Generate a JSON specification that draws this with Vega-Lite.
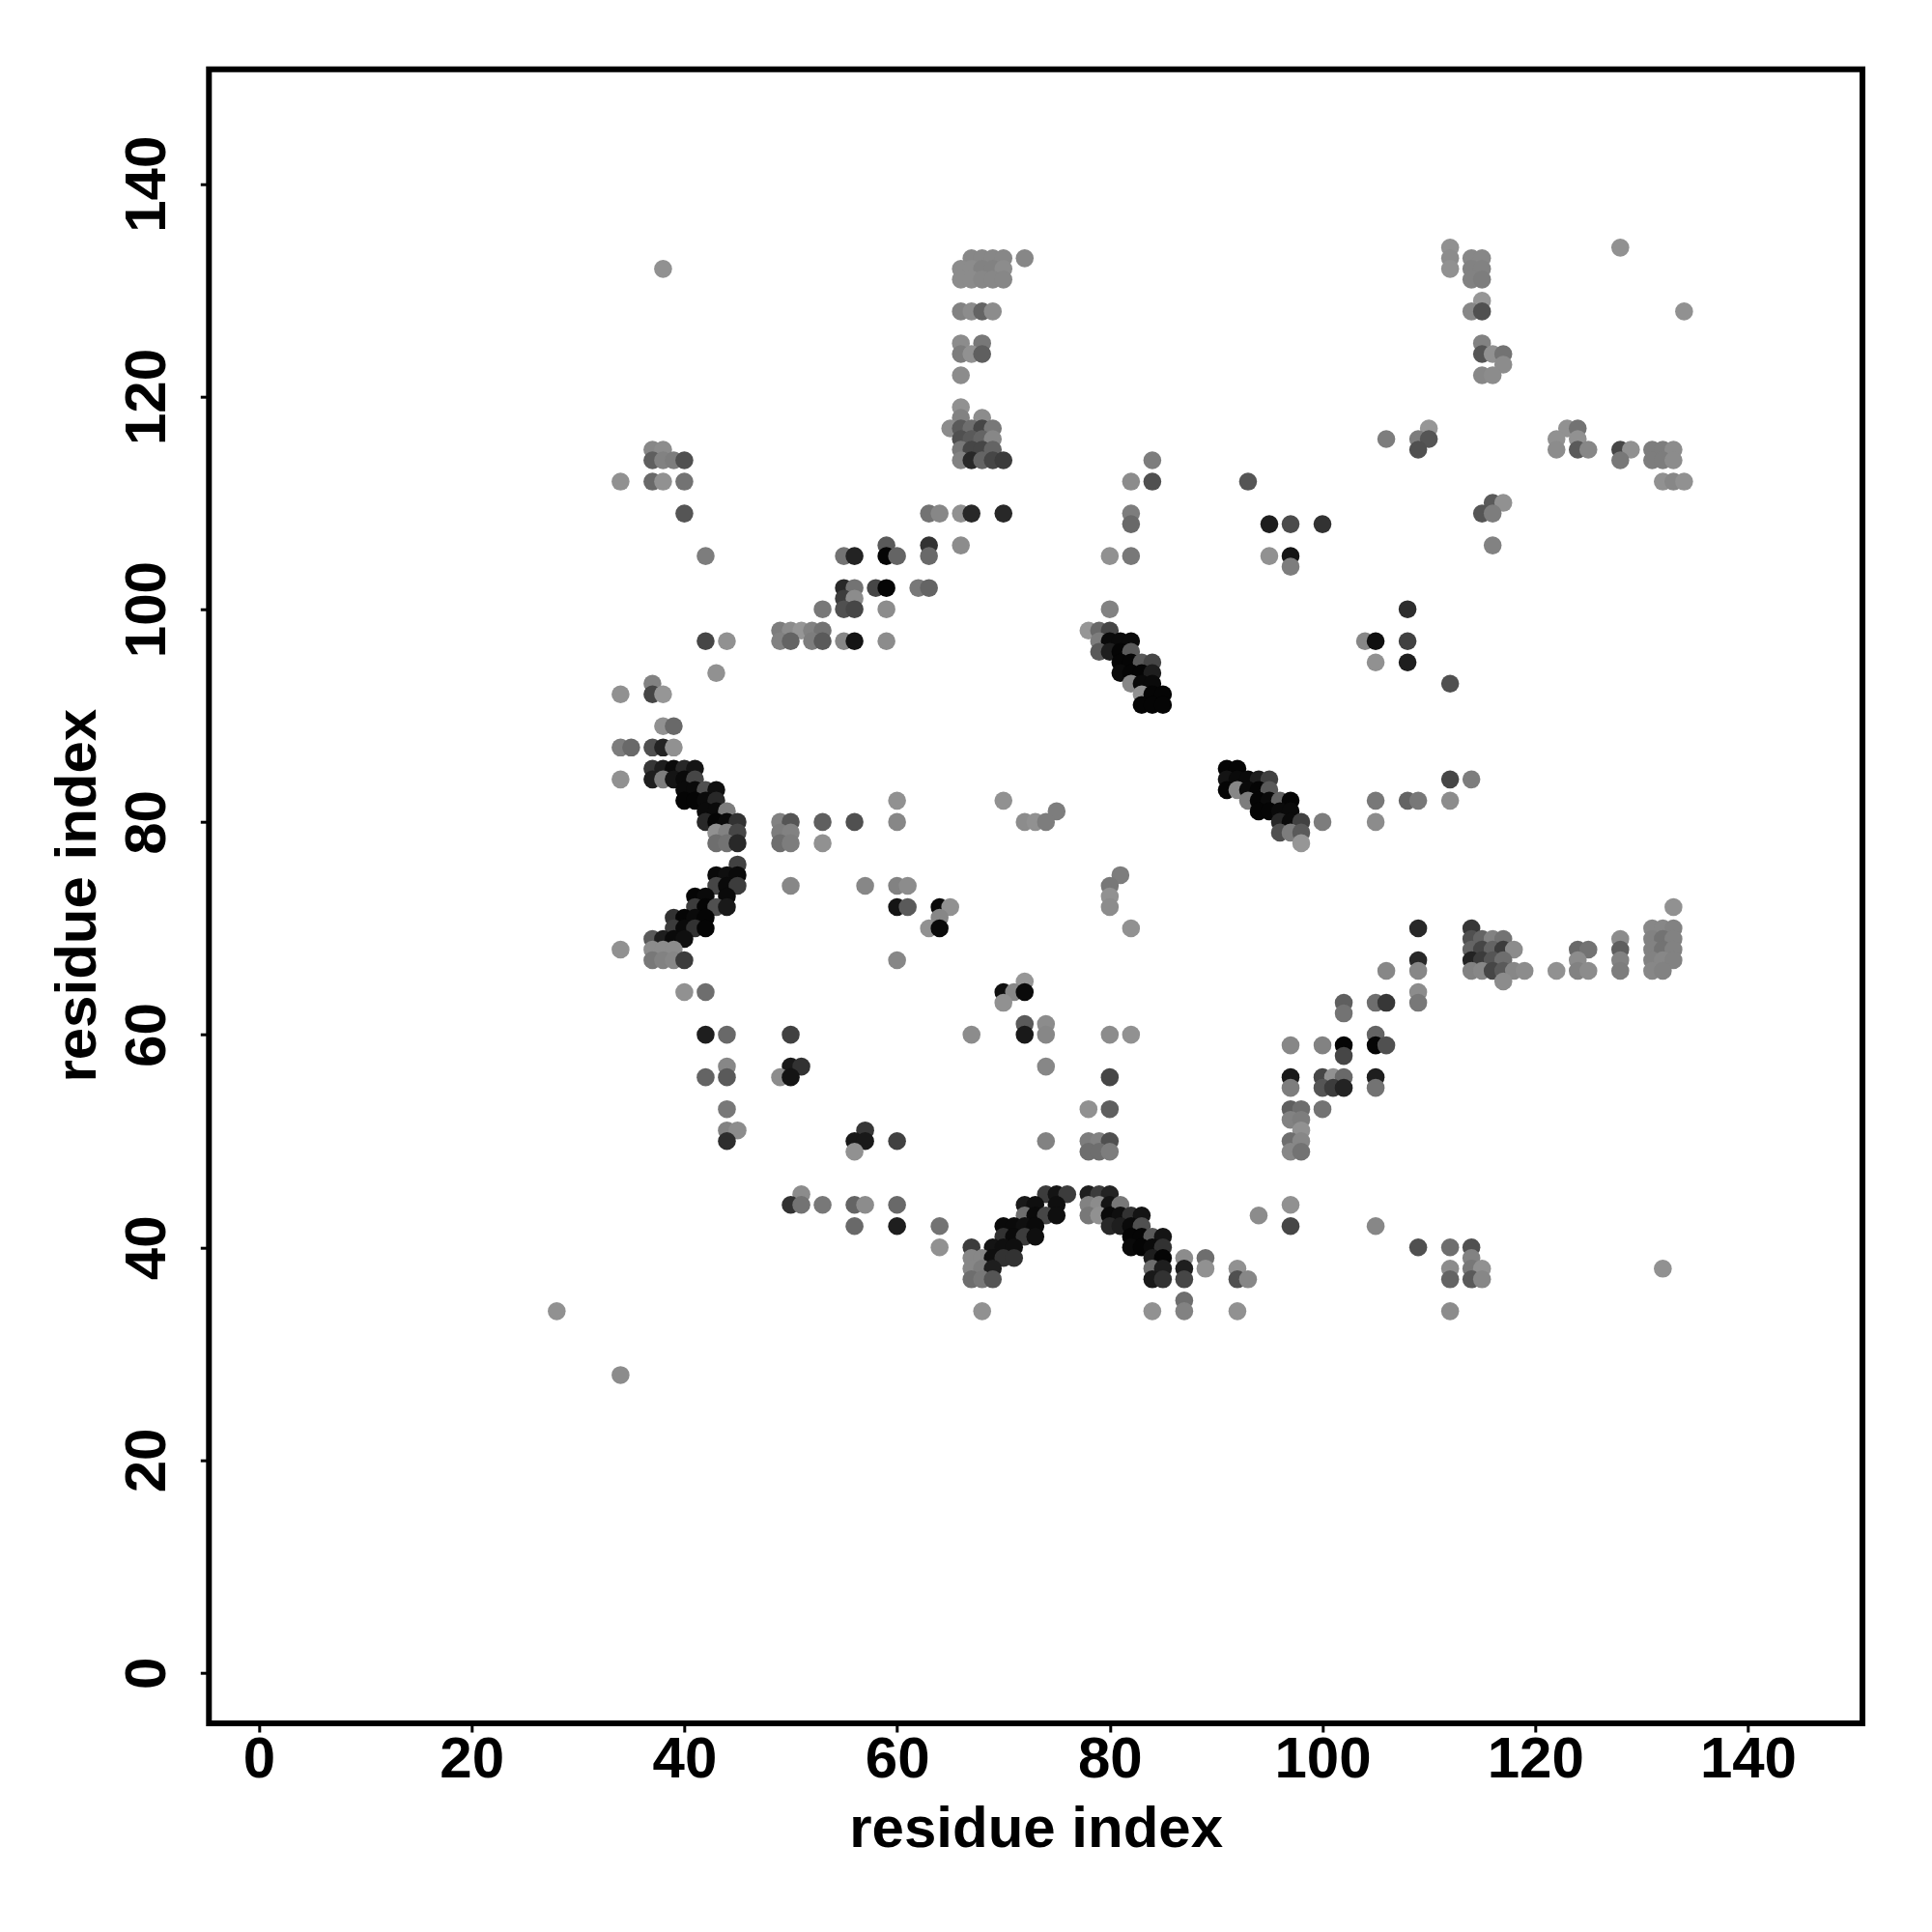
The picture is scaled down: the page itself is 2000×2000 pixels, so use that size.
{"$schema":"https://vega.github.io/schema/vega-lite/v6.json","width":1711.7,"height":1712.3,"autosize":{"type":"none"},"padding":{"left":216.3,"top":71.7,"right":72,"bottom":216},"background":"white","view":{"stroke":"#000000","strokeWidth":6,"fill":"white"},"data":{"values":[
{"x":112,"y":134,"g":145},{"x":128,"y":134,"g":145},
{"x":67,"y":133,"g":135},{"x":68,"y":133,"g":135},{"x":69,"y":133,"g":135},{"x":70,"y":133,"g":135},{"x":72,"y":133,"g":135},{"x":112,"y":133,"g":140},{"x":114,"y":133,"g":135},{"x":115,"y":133,"g":135},
{"x":38,"y":132,"g":145},{"x":66,"y":132,"g":140},{"x":67,"y":132,"g":140},{"x":68,"y":132,"g":130},{"x":69,"y":132,"g":130},{"x":70,"y":132,"g":140},{"x":112,"y":132,"g":145},{"x":114,"y":132,"g":130},{"x":115,"y":132,"g":130},
{"x":66,"y":131,"g":140},{"x":67,"y":131,"g":140},{"x":68,"y":131,"g":135},{"x":69,"y":131,"g":135},{"x":70,"y":131,"g":135},{"x":114,"y":131,"g":130},{"x":115,"y":131,"g":125},
{"x":115,"y":129,"g":150},
{"x":66,"y":128,"g":130},{"x":67,"y":128,"g":140},{"x":68,"y":128,"g":100},{"x":69,"y":128,"g":140},{"x":114,"y":128,"g":135},{"x":115,"y":128,"g":80},{"x":134,"y":128,"g":145},
{"x":66,"y":125,"g":140},{"x":68,"y":125,"g":120},{"x":115,"y":125,"g":130},
{"x":66,"y":124,"g":125},{"x":67,"y":124,"g":145},{"x":68,"y":124,"g":95},{"x":115,"y":124,"g":85},{"x":116,"y":124,"g":145},{"x":117,"y":124,"g":115},
{"x":117,"y":123,"g":140},
{"x":66,"y":122,"g":140},{"x":115,"y":122,"g":135},{"x":116,"y":122,"g":140},
{"x":66,"y":119,"g":145},
{"x":66,"y":118,"g":130},{"x":68,"y":118,"g":140},
{"x":65,"y":117,"g":140},{"x":66,"y":117,"g":90},{"x":67,"y":117,"g":110},{"x":68,"y":117,"g":70},{"x":69,"y":117,"g":120},{"x":110,"y":117,"g":150},{"x":123,"y":117,"g":145},{"x":124,"y":117,"g":115},
{"x":66,"y":116,"g":80},{"x":67,"y":116,"g":90},{"x":68,"y":116,"g":100},{"x":69,"y":116,"g":135},{"x":106,"y":116,"g":125},{"x":109,"y":116,"g":125},{"x":110,"y":116,"g":85},{"x":122,"y":116,"g":145},{"x":124,"y":116,"g":145},
{"x":37,"y":115,"g":135},{"x":38,"y":115,"g":140},{"x":66,"y":115,"g":120},{"x":67,"y":115,"g":70},{"x":68,"y":115,"g":70},{"x":69,"y":115,"g":100},{"x":109,"y":115,"g":80},{"x":122,"y":115,"g":140},{"x":124,"y":115,"g":90},{"x":125,"y":115,"g":135},{"x":128,"y":115,"g":70},{"x":129,"y":115,"g":145},{"x":131,"y":115,"g":125},{"x":132,"y":115,"g":125},{"x":133,"y":115,"g":140},
{"x":37,"y":114,"g":95},{"x":38,"y":114,"g":130},{"x":39,"y":114,"g":125},{"x":40,"y":114,"g":80},{"x":66,"y":114,"g":130},{"x":67,"y":114,"g":40},{"x":68,"y":114,"g":100},{"x":69,"y":114,"g":70},{"x":70,"y":114,"g":60},{"x":84,"y":114,"g":125},{"x":128,"y":114,"g":120},{"x":131,"y":114,"g":125},{"x":132,"y":114,"g":125},{"x":133,"y":114,"g":140},
{"x":34,"y":112,"g":145},{"x":37,"y":112,"g":105},{"x":38,"y":112,"g":145},{"x":40,"y":112,"g":115},{"x":82,"y":112,"g":140},{"x":84,"y":112,"g":80},{"x":93,"y":112,"g":85},{"x":132,"y":112,"g":145},{"x":133,"y":112,"g":135},{"x":134,"y":112,"g":145},
{"x":116,"y":110,"g":90},{"x":117,"y":110,"g":145},
{"x":40,"y":109,"g":85},{"x":63,"y":109,"g":115},{"x":64,"y":109,"g":135},{"x":66,"y":109,"g":145},{"x":67,"y":109,"g":40},{"x":70,"y":109,"g":40},{"x":82,"y":109,"g":125},{"x":115,"y":109,"g":85},{"x":116,"y":109,"g":125},
{"x":82,"y":108,"g":105},{"x":95,"y":108,"g":30},{"x":97,"y":108,"g":75},{"x":100,"y":108,"g":50},
{"x":59,"y":106,"g":90},{"x":63,"y":106,"g":50},{"x":66,"y":106,"g":140},{"x":116,"y":106,"g":130},
{"x":42,"y":105,"g":125},{"x":55,"y":105,"g":115},{"x":56,"y":105,"g":35},{"x":59,"y":105,"g":5},{"x":60,"y":105,"g":100},{"x":63,"y":105,"g":105},{"x":80,"y":105,"g":145},{"x":82,"y":105,"g":120},{"x":95,"y":105,"g":145},{"x":97,"y":105,"g":20},
{"x":97,"y":104,"g":125},
{"x":55,"y":102,"g":40},{"x":56,"y":102,"g":115},{"x":58,"y":102,"g":70},{"x":59,"y":102,"g":5},{"x":62,"y":102,"g":120},{"x":63,"y":102,"g":100},
{"x":55,"y":101,"g":60},{"x":56,"y":101,"g":140},
{"x":53,"y":100,"g":120},{"x":55,"y":100,"g":80},{"x":56,"y":100,"g":70},{"x":59,"y":100,"g":140},{"x":80,"y":100,"g":130},{"x":108,"y":100,"g":45},
{"x":49,"y":98,"g":125},{"x":50,"y":98,"g":140},{"x":51,"y":98,"g":150},{"x":52,"y":98,"g":130},{"x":53,"y":98,"g":115},{"x":78,"y":98,"g":150},{"x":79,"y":98,"g":105},{"x":80,"y":98,"g":70},
{"x":42,"y":97,"g":70},{"x":44,"y":97,"g":145},{"x":49,"y":97,"g":130},{"x":50,"y":97,"g":100},{"x":52,"y":97,"g":125},{"x":53,"y":97,"g":90},{"x":55,"y":97,"g":135},{"x":56,"y":97,"g":20},{"x":59,"y":97,"g":140},{"x":79,"y":97,"g":125},{"x":80,"y":97,"g":10},{"x":81,"y":97,"g":10},{"x":82,"y":97,"g":10},{"x":104,"y":97,"g":135},{"x":105,"y":97,"g":15},{"x":108,"y":97,"g":65},
{"x":79,"y":96,"g":90},{"x":80,"y":96,"g":30},{"x":81,"y":96,"g":5},{"x":82,"y":96,"g":90},
{"x":81,"y":95,"g":5},{"x":82,"y":95,"g":5},{"x":83,"y":95,"g":90},{"x":84,"y":95,"g":70},{"x":105,"y":95,"g":145},{"x":108,"y":95,"g":30},
{"x":43,"y":94,"g":145},{"x":81,"y":94,"g":10},{"x":82,"y":94,"g":5},{"x":83,"y":94,"g":5},{"x":84,"y":94,"g":30},
{"x":37,"y":93,"g":130},{"x":82,"y":93,"g":135},{"x":83,"y":93,"g":10},{"x":84,"y":93,"g":10},{"x":112,"y":93,"g":80},
{"x":34,"y":92,"g":145},{"x":37,"y":92,"g":70},{"x":38,"y":92,"g":150},{"x":83,"y":92,"g":145},{"x":84,"y":92,"g":5},{"x":85,"y":92,"g":5},
{"x":83,"y":91,"g":5},{"x":84,"y":91,"g":5},{"x":85,"y":91,"g":5},
{"x":38,"y":89,"g":145},{"x":39,"y":89,"g":105},
{"x":34,"y":87,"g":125},{"x":35,"y":87,"g":105},{"x":37,"y":87,"g":80},{"x":38,"y":87,"g":35},{"x":39,"y":87,"g":145},
{"x":37,"y":85,"g":55},{"x":38,"y":85,"g":30},{"x":39,"y":85,"g":10},{"x":40,"y":85,"g":40},{"x":41,"y":85,"g":20},{"x":91,"y":85,"g":5},{"x":92,"y":85,"g":5},
{"x":34,"y":84,"g":145},{"x":37,"y":84,"g":30},{"x":38,"y":84,"g":125},{"x":39,"y":84,"g":20},{"x":40,"y":84,"g":10},{"x":41,"y":84,"g":70},{"x":91,"y":84,"g":20},{"x":92,"y":84,"g":10},{"x":93,"y":84,"g":10},{"x":94,"y":84,"g":30},{"x":95,"y":84,"g":65},{"x":112,"y":84,"g":70},{"x":114,"y":84,"g":125},
{"x":40,"y":83,"g":10},{"x":41,"y":83,"g":10},{"x":42,"y":83,"g":80},{"x":43,"y":83,"g":15},{"x":91,"y":83,"g":5},{"x":92,"y":83,"g":135},{"x":93,"y":83,"g":10},{"x":94,"y":83,"g":5},{"x":95,"y":83,"g":90},
{"x":40,"y":82,"g":5},{"x":41,"y":82,"g":5},{"x":42,"y":82,"g":10},{"x":43,"y":82,"g":40},{"x":60,"y":82,"g":145},{"x":70,"y":82,"g":145},{"x":93,"y":82,"g":125},{"x":94,"y":82,"g":5},{"x":95,"y":82,"g":10},{"x":96,"y":82,"g":100},{"x":97,"y":82,"g":5},{"x":105,"y":82,"g":120},{"x":108,"y":82,"g":100},{"x":109,"y":82,"g":120},{"x":112,"y":82,"g":140},
{"x":42,"y":81,"g":10},{"x":43,"y":81,"g":10},{"x":44,"y":81,"g":125},{"x":75,"y":81,"g":125},{"x":94,"y":81,"g":5},{"x":95,"y":81,"g":5},{"x":96,"y":81,"g":10},{"x":97,"y":81,"g":10},
{"x":42,"y":80,"g":40},{"x":43,"y":80,"g":5},{"x":44,"y":80,"g":10},{"x":45,"y":80,"g":50},{"x":49,"y":80,"g":130},{"x":50,"y":80,"g":85},{"x":53,"y":80,"g":95},{"x":56,"y":80,"g":80},{"x":60,"y":80,"g":135},{"x":72,"y":80,"g":140},{"x":73,"y":80,"g":145},{"x":74,"y":80,"g":125},{"x":96,"y":80,"g":40},{"x":97,"y":80,"g":10},{"x":98,"y":80,"g":65},{"x":100,"y":80,"g":125},{"x":105,"y":80,"g":140},
{"x":43,"y":79,"g":145},{"x":44,"y":79,"g":130},{"x":45,"y":79,"g":70},{"x":49,"y":79,"g":125},{"x":50,"y":79,"g":130},{"x":96,"y":79,"g":80},{"x":97,"y":79,"g":125},{"x":98,"y":79,"g":90},
{"x":43,"y":78,"g":110},{"x":44,"y":78,"g":115},{"x":45,"y":78,"g":40},{"x":49,"y":78,"g":110},{"x":50,"y":78,"g":125},{"x":53,"y":78,"g":145},{"x":98,"y":78,"g":150},
{"x":45,"y":76,"g":65},
{"x":43,"y":75,"g":10},{"x":44,"y":75,"g":15},{"x":45,"y":75,"g":10},{"x":81,"y":75,"g":125},
{"x":43,"y":74,"g":70},{"x":44,"y":74,"g":10},{"x":45,"y":74,"g":60},{"x":50,"y":74,"g":135},{"x":57,"y":74,"g":135},{"x":60,"y":74,"g":130},{"x":61,"y":74,"g":140},{"x":80,"y":74,"g":120},
{"x":41,"y":73,"g":5},{"x":42,"y":73,"g":10},{"x":44,"y":73,"g":10},{"x":80,"y":73,"g":145},
{"x":41,"y":72,"g":60},{"x":42,"y":72,"g":5},{"x":43,"y":72,"g":80},{"x":44,"y":72,"g":25},{"x":60,"y":72,"g":20},{"x":61,"y":72,"g":90},{"x":64,"y":72,"g":10},{"x":65,"y":72,"g":145},{"x":80,"y":72,"g":140},{"x":133,"y":72,"g":145},
{"x":39,"y":71,"g":50},{"x":40,"y":71,"g":5},{"x":41,"y":71,"g":10},{"x":42,"y":71,"g":5},{"x":64,"y":71,"g":135},
{"x":39,"y":70,"g":60},{"x":40,"y":70,"g":10},{"x":41,"y":70,"g":50},{"x":42,"y":70,"g":5},{"x":63,"y":70,"g":145},{"x":64,"y":70,"g":10},{"x":82,"y":70,"g":145},{"x":109,"y":70,"g":40},{"x":114,"y":70,"g":55},{"x":131,"y":70,"g":135},{"x":132,"y":70,"g":135},{"x":133,"y":70,"g":130},
{"x":37,"y":69,"g":90},{"x":38,"y":69,"g":30},{"x":39,"y":69,"g":10},{"x":40,"y":69,"g":15},{"x":114,"y":69,"g":80},{"x":115,"y":69,"g":100},{"x":116,"y":69,"g":130},{"x":117,"y":69,"g":115},{"x":128,"y":69,"g":140},{"x":131,"y":69,"g":130},{"x":132,"y":69,"g":115},{"x":133,"y":69,"g":130},
{"x":34,"y":68,"g":145},{"x":37,"y":68,"g":140},{"x":38,"y":68,"g":140},{"x":39,"y":68,"g":140},{"x":114,"y":68,"g":100},{"x":115,"y":68,"g":70},{"x":116,"y":68,"g":100},{"x":117,"y":68,"g":60},{"x":118,"y":68,"g":140},{"x":124,"y":68,"g":105},{"x":125,"y":68,"g":115},{"x":128,"y":68,"g":95},{"x":131,"y":68,"g":130},{"x":132,"y":68,"g":115},{"x":133,"y":68,"g":130},
{"x":37,"y":67,"g":120},{"x":38,"y":67,"g":130},{"x":39,"y":67,"g":135},{"x":40,"y":67,"g":60},{"x":60,"y":67,"g":135},{"x":109,"y":67,"g":40},{"x":114,"y":67,"g":35},{"x":115,"y":67,"g":60},{"x":116,"y":67,"g":85},{"x":117,"y":67,"g":110},{"x":124,"y":67,"g":140},{"x":128,"y":67,"g":130},{"x":131,"y":67,"g":130},{"x":132,"y":67,"g":135},{"x":133,"y":67,"g":130},
{"x":106,"y":66,"g":135},{"x":109,"y":66,"g":135},{"x":114,"y":66,"g":130},{"x":115,"y":66,"g":135},{"x":116,"y":66,"g":70},{"x":117,"y":66,"g":90},{"x":118,"y":66,"g":135},{"x":119,"y":66,"g":140},{"x":122,"y":66,"g":145},{"x":124,"y":66,"g":130},{"x":125,"y":66,"g":140},{"x":128,"y":66,"g":125},{"x":131,"y":66,"g":135},{"x":132,"y":66,"g":130},
{"x":72,"y":65,"g":150},{"x":117,"y":65,"g":140},
{"x":40,"y":64,"g":145},{"x":42,"y":64,"g":110},{"x":70,"y":64,"g":15},{"x":71,"y":64,"g":135},{"x":72,"y":64,"g":10},{"x":109,"y":64,"g":140},
{"x":70,"y":63,"g":145},{"x":102,"y":63,"g":95},{"x":105,"y":63,"g":110},{"x":106,"y":63,"g":55},{"x":109,"y":63,"g":120},
{"x":102,"y":62,"g":115},
{"x":72,"y":61,"g":90},{"x":74,"y":61,"g":140},
{"x":42,"y":60,"g":30},{"x":44,"y":60,"g":105},{"x":50,"y":60,"g":65},{"x":67,"y":60,"g":140},{"x":72,"y":60,"g":25},{"x":74,"y":60,"g":135},{"x":80,"y":60,"g":140},{"x":82,"y":60,"g":145},{"x":105,"y":60,"g":100},
{"x":97,"y":59,"g":135},{"x":100,"y":59,"g":130},{"x":102,"y":59,"g":5},{"x":105,"y":59,"g":5},{"x":106,"y":59,"g":80},
{"x":102,"y":58,"g":70},
{"x":44,"y":57,"g":135},{"x":50,"y":57,"g":25},{"x":51,"y":57,"g":50},{"x":74,"y":57,"g":135},
{"x":42,"y":56,"g":100},{"x":44,"y":56,"g":90},{"x":49,"y":56,"g":140},{"x":50,"y":56,"g":20},{"x":80,"y":56,"g":70},{"x":97,"y":56,"g":25},{"x":100,"y":56,"g":70},{"x":101,"y":56,"g":145},{"x":102,"y":56,"g":105},{"x":105,"y":56,"g":30},
{"x":97,"y":55,"g":125},{"x":100,"y":55,"g":85},{"x":101,"y":55,"g":60},{"x":102,"y":55,"g":35},{"x":105,"y":55,"g":115},
{"x":44,"y":53,"g":120},{"x":78,"y":53,"g":145},{"x":80,"y":53,"g":95},{"x":97,"y":53,"g":95},{"x":98,"y":53,"g":110},{"x":100,"y":53,"g":115},
{"x":97,"y":52,"g":130},{"x":98,"y":52,"g":125},
{"x":44,"y":51,"g":130},{"x":45,"y":51,"g":140},{"x":57,"y":51,"g":55},{"x":98,"y":51,"g":145},
{"x":44,"y":50,"g":45},{"x":56,"y":50,"g":25},{"x":57,"y":50,"g":25},{"x":60,"y":50,"g":65},{"x":74,"y":50,"g":130},{"x":78,"y":50,"g":125},{"x":79,"y":50,"g":130},{"x":80,"y":50,"g":80},{"x":97,"y":50,"g":110},{"x":98,"y":50,"g":135},
{"x":56,"y":49,"g":145},{"x":78,"y":49,"g":110},{"x":79,"y":49,"g":110},{"x":80,"y":49,"g":125},{"x":97,"y":49,"g":135},{"x":98,"y":49,"g":115},
{"x":51,"y":45,"g":140},{"x":74,"y":45,"g":60},{"x":75,"y":45,"g":20},{"x":76,"y":45,"g":60},{"x":78,"y":45,"g":30},{"x":79,"y":45,"g":60},{"x":80,"y":45,"g":35},
{"x":50,"y":44,"g":50},{"x":51,"y":44,"g":115},{"x":53,"y":44,"g":120},{"x":56,"y":44,"g":100},{"x":57,"y":44,"g":140},{"x":60,"y":44,"g":105},{"x":72,"y":44,"g":25},{"x":73,"y":44,"g":15},{"x":75,"y":44,"g":15},{"x":78,"y":44,"g":130},{"x":79,"y":44,"g":140},{"x":80,"y":44,"g":20},{"x":81,"y":44,"g":120},{"x":97,"y":44,"g":145},
{"x":72,"y":43,"g":110},{"x":73,"y":43,"g":10},{"x":74,"y":43,"g":70},{"x":75,"y":43,"g":15},{"x":78,"y":43,"g":120},{"x":79,"y":43,"g":145},{"x":80,"y":43,"g":10},{"x":81,"y":43,"g":15},{"x":82,"y":43,"g":50},{"x":83,"y":43,"g":20},{"x":94,"y":43,"g":140},
{"x":56,"y":42,"g":105},{"x":60,"y":42,"g":30},{"x":64,"y":42,"g":115},{"x":70,"y":42,"g":10},{"x":71,"y":42,"g":10},{"x":72,"y":42,"g":15},{"x":73,"y":42,"g":10},{"x":80,"y":42,"g":40},{"x":81,"y":42,"g":30},{"x":82,"y":42,"g":10},{"x":83,"y":42,"g":80},{"x":97,"y":42,"g":70},{"x":105,"y":42,"g":135},
{"x":70,"y":41,"g":50},{"x":71,"y":41,"g":10},{"x":72,"y":41,"g":60},{"x":73,"y":41,"g":15},{"x":82,"y":41,"g":5},{"x":83,"y":41,"g":5},{"x":84,"y":41,"g":90},{"x":85,"y":41,"g":20},
{"x":64,"y":40,"g":145},{"x":67,"y":40,"g":60},{"x":69,"y":40,"g":20},{"x":70,"y":40,"g":15},{"x":71,"y":40,"g":15},{"x":82,"y":40,"g":10},{"x":83,"y":40,"g":5},{"x":84,"y":40,"g":10},{"x":85,"y":40,"g":50},{"x":109,"y":40,"g":80},{"x":112,"y":40,"g":110},{"x":114,"y":40,"g":80},
{"x":67,"y":39,"g":135},{"x":68,"y":39,"g":135},{"x":69,"y":39,"g":15},{"x":70,"y":39,"g":50},{"x":71,"y":39,"g":50},{"x":84,"y":39,"g":30},{"x":85,"y":39,"g":5},{"x":87,"y":39,"g":140},{"x":89,"y":39,"g":110},{"x":114,"y":39,"g":130},
{"x":67,"y":38,"g":135},{"x":68,"y":38,"g":125},{"x":69,"y":38,"g":30},{"x":84,"y":38,"g":110},{"x":85,"y":38,"g":30},{"x":87,"y":38,"g":30},{"x":89,"y":38,"g":145},{"x":92,"y":38,"g":145},{"x":112,"y":38,"g":140},{"x":114,"y":38,"g":120},{"x":115,"y":38,"g":145},{"x":132,"y":38,"g":145},
{"x":67,"y":37,"g":110},{"x":68,"y":37,"g":120},{"x":69,"y":37,"g":85},{"x":84,"y":37,"g":25},{"x":85,"y":37,"g":50},{"x":87,"y":37,"g":70},{"x":92,"y":37,"g":80},{"x":93,"y":37,"g":135},{"x":112,"y":37,"g":100},{"x":114,"y":37,"g":90},{"x":115,"y":37,"g":135},
{"x":87,"y":35,"g":110},
{"x":28,"y":34,"g":145},{"x":68,"y":34,"g":145},{"x":84,"y":34,"g":145},{"x":87,"y":34,"g":130},{"x":92,"y":34,"g":145},{"x":112,"y":34,"g":140},
{"x":34,"y":28,"g":140}
]},"mark":{"type":"circle","size":345,"opacity":1},"encoding":{"x":{"field":"x","type":"quantitative","scale":{"domain":[-4.7,150.77],"nice":false,"zero":false},"axis":{"values":[0,20,40,60,80,100,120,140],"title":"residue index","grid":false,"domain":false,"tickSize":9,"tickWidth":3,"tickColor":"#000000","labelColor":"#000000","labelFont":"Liberation Sans","labelFontWeight":"bold","labelFontSize":60,"labelBaseline":"alphabetic","labelPadding":46,"labelOverlap":false,"labelFlush":false,"titleFont":"Liberation Sans","titleFontWeight":"bold","titleFontSize":60,"titleColor":"#000000","titleBaseline":"alphabetic","titleY":127}},"y":{"field":"y","type":"quantitative","scale":{"domain":[-4.75,150.77],"nice":false,"zero":false},"axis":{"values":[0,20,40,60,80,100,120,140],"title":"residue index","grid":false,"domain":false,"tickSize":9,"tickWidth":3,"tickColor":"#000000","labelColor":"#000000","labelFont":"Liberation Sans","labelFontWeight":"bold","labelFontSize":60,"labelAngle":-90,"labelAlign":"center","labelBaseline":"alphabetic","labelPadding":37,"labelOverlap":false,"labelFlush":false,"titleFont":"Liberation Sans","titleFontWeight":"bold","titleFontSize":60,"titleColor":"#000000","titleBaseline":"alphabetic","titleX":-118,"titleY":855}},"color":{"field":"g","type":"quantitative","scale":{"domain":[0,255],"range":["#000000","#ffffff"],"interpolate":"rgb"},"legend":null},"order":[{"field":"x"},{"field":"y"}]}}
